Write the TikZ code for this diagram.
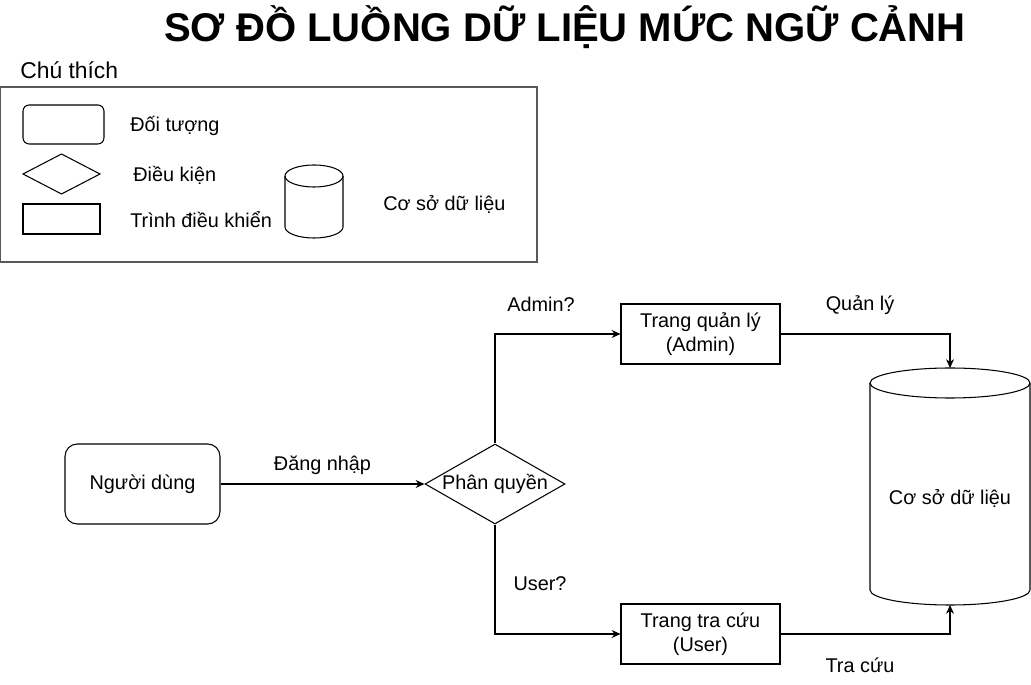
\documentclass[tikz,border=0pt]{standalone}
\usepackage{fontspec}
\setmainfont{Liberation Sans}
\usetikzlibrary{shapes.geometric,arrows.meta}
\tikzset{
  txt/.style={font=\fontsize{11.3}{13.8}\selectfont, align=center, inner sep=0pt},
  obj/.style={txt, draw, line width=0.6pt, rounded corners=7pt},
  ctrl/.style={txt, draw, line width=0.6pt},
  cond/.style={txt, draw, line width=0.6pt, diamond, aspect=1.75, inner sep=0pt},
  arr/.style={line width=0.6pt, -{Stealth[length=5pt,width=4.5pt]}},
}
\begin{document}
\begin{tikzpicture}[x=0.02cm,y=-0.02cm]
    \useasboundingbox (0,0) rectangle (1031,685);
    \node[font=\bfseries\fontsize{22.8}{26}\selectfont] (title) at (565,27) {SƠ ĐỒ LUỒNG DỮ LIỆU MỨC NGỮ CẢNH};
    % legend
    \node[font=\fontsize{13}{15}\selectfont, anchor=west, inner sep=0pt] (legtitle) at (20,70) {Chú thích};
    \draw[black!65, line width=0.8pt] (0,87) rectangle (537,262);
    \node[obj, rounded corners=3.5pt, minimum width=1.62cm, minimum height=0.78cm] (legobj) at (63.5,124.5) {};
    \node[txt, anchor=west] (legobjtxt) at (130,126) {Đối tượng};
    \draw[line width=0.6pt] (23,174) --++ (38.5,-20) --++ (38.5,20) --++ (-38.5,20) -- cycle;
    \node[txt, anchor=west] (legcondtxt) at (133,175) {Điều kiện};
    \node[ctrl, minimum width=1.54cm, minimum height=0.6cm] (legctrl) at (61.5,219) {};
    \node[txt, anchor=west] (legctrltxt) at (130,220) {Trình điều khiển};
    \draw[line width=0.6pt] (314,176) ellipse [x radius=29, y radius=11];
    \draw[line width=0.6pt] (285,176) -- (285,227) arc [start angle=180, end angle=0, x radius=29, y radius=11] -- (343,176);
    \node[txt, anchor=west] (legdbtxt) at (383,205) {Cơ sở dữ liệu};
    % diagram
    \node[obj, minimum width=3.1cm, minimum height=1.6cm] (user) at (142.5,484) {Người dùng};
    \node[cond, minimum width=2.8cm, minimum height=1.6cm] (role) at (495,484) {Phân quyền};
    \node[ctrl, minimum width=3.18cm, minimum height=1.2cm] (admin) at (700.5,334) {Trang quản lý\\(Admin)};
    \node[ctrl, minimum width=3.18cm, minimum height=1.2cm] (lookup) at (700.5,634) {Trang tra cứu\\(User)};
    \draw[line width=0.6pt] (950,383) ellipse [x radius=80, y radius=15];
    \draw[line width=0.6pt] (870,383) -- (870,590) arc [start angle=180, end angle=0, x radius=80, y radius=15] -- (1030,383);
    \node[txt] (db) at (950,499) {Cơ sở dữ liệu};
    \coordinate (dbtop) at (950,368);
    \coordinate (dbbot) at (950,605);
    \draw[arr] (user) -- (role) node[txt, midway, above=5pt] (login) {Đăng nhập};
    \draw[arr] (role.north) |- (admin.west);
    \draw[arr] (role.south) |- (lookup.west);
    \draw[arr] (admin.east) -| (dbtop);
    \draw[arr] (lookup.east) -| (dbbot);
    \node[txt] (isadmin) at (541,304) {Admin?};
    \node[txt] (isuser) at (540,584) {User?};
    \node[txt] (manage) at (860,305) {Quản lý};
    \node[txt] (search) at (860,665) {Tra cứu};
\end{tikzpicture}
\end{document}
